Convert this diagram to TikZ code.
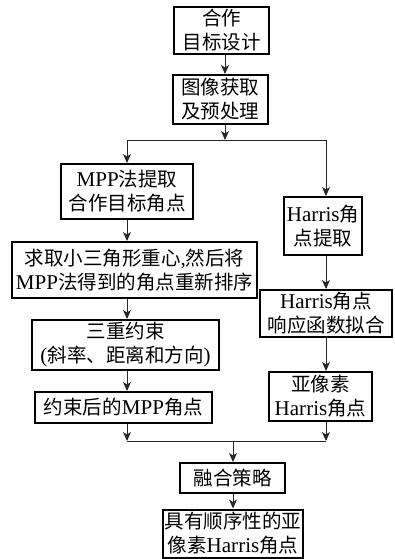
\documentclass[tikz,border=0pt]{standalone}
\usepackage{fontspec}
\setmainfont[Scale=1.08]{Liberation Serif}
\newfontfamily\cj{Noto Sans CJK SC}
\usetikzlibrary{arrows.meta}
\tikzset{
  box/.style={draw=black, line width=2pt, inner sep=0pt, align=center,
    font=\fontsize{19.5}{24}\selectfont},
  conn/.style={draw=black!85, line width=0.9pt},
  arr/.style={conn, -{Stealth[length=9pt,width=8pt,inset=2.5pt]}}
}
\begin{document}
\begin{tikzpicture}[x=1pt,y=-1pt]
\useasboundingbox (0,0) rectangle (394,559);
% top
\node[box, minimum width=95pt, minimum height=47pt] (b1) at (221.5,30.5) {{\cj 合作}\\{\cj 目标设计}};
\node[box, minimum width=95pt, minimum height=49pt] (b2) at (220,99.5) {{\cj 图像获取}\\{\cj 及预处理}};
% left column
\node[box, minimum width=132pt, minimum height=55pt] (mpp) at (127,191.5) {MPP{\cj 法提取}\\{\cj 合作目标角点}};
\node[box, minimum width=245pt, minimum height=56pt] (qq) at (134.5,270) {{\cj 求取小三角形重心},{\cj 然后将}\\MPP{\cj 法得到的角点重新排序}};
\node[box, minimum width=187pt, minimum height=50pt] (sc) at (125.5,345) {{\cj 三重约束}\\({\cj 斜率、距离和方向})};
\node[box, minimum width=177pt, minimum height=31pt] (ys) at (123.5,407.5) {{\cj 约束后的}MPP{\cj 角点}};
% right column
\node[box, minimum width=78pt, minimum height=58pt] (h1) at (323,226) {Harris{\cj 角}\\{\cj 点提取}};
\node[box, minimum width=132pt, minimum height=47pt] (h2) at (326,313.5) {Harris{\cj 角点}\\{\cj 响应函数拟合}};
\node[box, minimum width=103pt, minimum height=49pt] (h3) at (320.5,396.5) {{\cj 亚像素}\\Harris{\cj 角点}};
% bottom
\node[box, minimum width=105pt, minimum height=30pt] (rh) at (232.5,478) {{\cj 融合策略}};
\node[box, minimum width=140pt, minimum height=48pt] (jy) at (233,533.5) {{\cj 具有顺序性的亚}\\{\cj 像素}Harris{\cj 角点}};
% junction coordinates
\coordinate (ax) at (225,0);
\coordinate (cT) at (225,140);
\coordinate (cTL) at (127,140);
\coordinate (cTR) at (326,140);
\coordinate (cB) at (233,441);
\coordinate (cBL) at (127,441);
\coordinate (cBR) at (326,441);
% connectors
\draw[arr] (b1.south -| ax) -- (b2.north -| ax);
\draw[arr] (b2.south -| cT) -- (cT);
\draw[conn] (cTL) -- (cTR);
\draw[arr] (cTL) -- (mpp.north -| cTL);
\draw[arr] (cTR) -- (h1.north -| cTR);
\draw[arr] (mpp.south -| cTL) -- (qq.north -| cTL);
\draw[arr] (qq.south -| cTL) -- (sc.north -| cTL);
\draw[arr] (sc.south -| cTL) -- (ys.north -| cTL);
\draw[arr] (ys.south -| cBL) -- (cBL);
\draw[arr] (h1.south -| cTR) -- (h2.north -| cTR);
\draw[arr] (h2.south -| cTR) -- (h3.north -| cTR);
\draw[arr] (h3.south -| cBR) -- (cBR);
\draw[conn] (cBL) -- (cBR);
\draw[arr] (cB) -- (rh.north -| cB);
\draw[arr] (rh.south -| cB) -- (jy.north -| cB);
\end{tikzpicture}
\end{document}
